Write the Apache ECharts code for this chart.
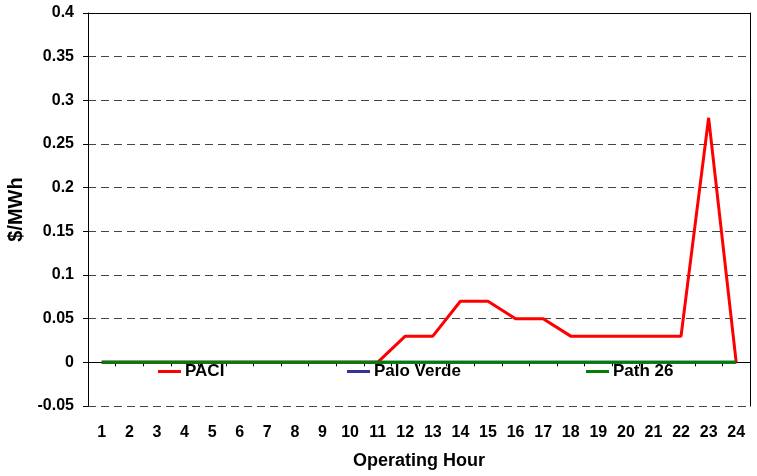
<!DOCTYPE html>
<html><head><meta charset="utf-8">
<script src="https://cdn.jsdelivr.net/npm/echarts@6/dist/echarts.min.js"></script>
<style>html,body{margin:0;padding:0;background:#fff}#c{width:757px;height:476px}</style>
</head><body><div id="c"></div>
<script>
const hours = ['1','2','3','4','5','6','7','8','9','10','11','12','13','14','15','16','17','18','19','20','21','22','23','24'];
const paci = [0,0,0,0,0,0,0,0,0,0,0,0.03,0.03,0.07,0.07,0.05,0.05,0.03,0.03,0.03,0.03,0.03,0.28,0];
const paloVerde = [0,0,0,0,0,0,0,0,0,0,0,0,0,0,0,0,0,0,0,0,0,0,0,0];
const path26 = [0,0,0,0,0,0,0,0,0,0,0,0,0,0,0,0,0,0,0,0,0,0,0,0];
const yTicks = {min:-0.05, max:0.4, interval:0.05};

const font = 'Liberation Sans, Arial, sans-serif';
const chart = echarts.init(document.getElementById('c'));
function leg(name, left){
  return {data:[name], left:left, top:358, icon:'rect', itemWidth:23, itemHeight:3, itemGap:0,
    textStyle:{fontFamily:font, fontWeight:'bold', fontSize:17, color:'#000', padding:[0,0,0,-1]}, selectedMode:false};
}
chart.setOption({
  animation:false,
  grid:{left:88, right:7, top:13, bottom:70, outerBoundsMode:'none', containLabel:false},
  legend:[leg('PACI',153), leg('Palo Verde',342), leg('Path 26',581)],
  xAxis:[{
    type:'category', data:hours, boundaryGap:true,
    axisLine:{onZero:true, lineStyle:{color:'#000', width:1}},
    axisTick:{show:true, length:4, lineStyle:{color:'#000'}},
    axisLabel:{margin:19, fontFamily:font, fontWeight:'bold', fontSize:16, color:'#000'},
    name:'Operating Hour', nameLocation:'middle', nameGap:46,
    nameTextStyle:{fontFamily:font, fontWeight:'bold', fontSize:18, color:'#000'}
  },{
    type:'category', data:hours, position:'top', gridIndex:0,
    axisLine:{show:true, onZero:false, lineStyle:{color:'#000'}}, axisTick:{show:false}, axisLabel:{show:false}
  }],
  yAxis:[{
    type:'value', min:yTicks.min, max:yTicks.max, interval:yTicks.interval,
    axisLine:{show:true, lineStyle:{color:'#000'}},
    axisTick:{show:true, length:5, lineStyle:{color:'#000'}},
    axisLabel:{margin:14, fontFamily:font, fontWeight:'bold', fontSize:16, color:'#000',
      formatter:v=>String(parseFloat(v.toFixed(2)))},
    splitLine:{show:true, lineStyle:{color:'#444', type:[8,5], width:1}},
    name:'$/MWh', nameLocation:'middle', nameGap:56, nameRotate:90,
    nameTextStyle:{fontFamily:font, fontWeight:'bold', fontSize:20, color:'#000'}
  },{
    type:'value', min:yTicks.min, max:yTicks.max, interval:yTicks.interval, position:'right',
    axisLine:{show:true, lineStyle:{color:'#000'}}, axisTick:{show:false}, axisLabel:{show:false}, splitLine:{show:false}
  }],
  series:[
    {name:'PACI', type:'line', data:paci, symbol:'none', lineStyle:{color:'#ff0000', width:3}, itemStyle:{color:'#ff0000'}},
    {name:'Palo Verde', type:'line', data:paloVerde, symbol:'none', lineStyle:{color:'#333399', width:3}, itemStyle:{color:'#333399'}},
    {name:'Path 26', type:'line', data:path26, symbol:'none', lineStyle:{color:'#008000', width:3}, itemStyle:{color:'#008000'}}
  ]
});
</script></body></html>
